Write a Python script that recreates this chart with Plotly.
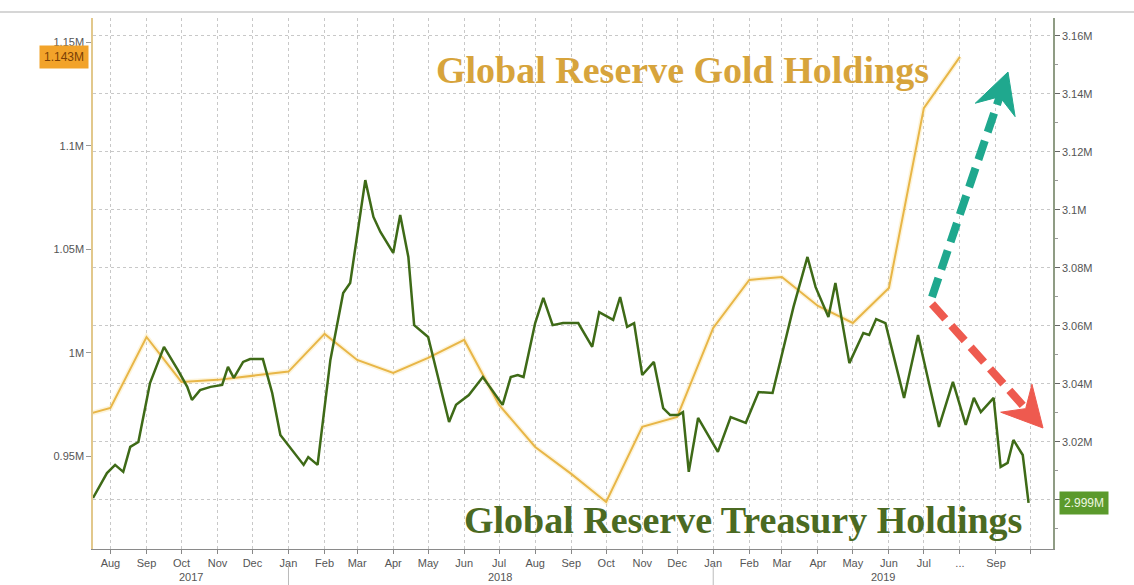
import plotly.graph_objects as go
import pandas as pd

# ---------------- data ----------------
gold_dates = ["2017-07-01", "2017-08-01", "2017-09-01", "2017-10-01", "2017-11-01", "2017-12-01",
              "2018-01-01", "2018-02-01", "2018-03-01", "2018-04-01", "2018-05-01", "2018-06-01",
              "2018-07-01", "2018-08-01", "2018-09-01", "2018-10-01", "2018-11-01", "2018-12-01",
              "2019-01-01", "2019-02-01", "2019-03-01", "2019-04-01", "2019-05-01", "2019-06-01",
              "2019-07-01", "2019-08-01"]
gold_values = [0.9686, 0.9734, 1.0077, 0.9860, 0.9870, 0.9889,
               0.9910, 1.0092, 0.9966, 0.9903, 0.9976, 1.0063,
               0.9749, 0.9546, 0.9416, 0.9280, 0.9643, 0.9691,
               1.0121, 1.0353, 1.0367, 1.0227, 1.0145, 1.0314,
               1.1183, 1.1430]

treasury_dates = ["2017-07-17", "2017-07-29", "2017-08-05", "2017-08-12", "2017-08-18", "2017-08-25",
                  "2017-09-04", "2017-09-16", "2017-09-28", "2017-10-06", "2017-10-10", "2017-10-17",
                  "2017-10-26", "2017-11-05", "2017-11-10", "2017-11-15", "2017-11-23", "2017-11-29",
                  "2017-12-10", "2017-12-18", "2017-12-25", "2018-01-03", "2018-01-14", "2018-01-18",
                  "2018-01-26", "2018-02-06", "2018-02-17", "2018-02-23", "2018-03-08", "2018-03-15",
                  "2018-03-21", "2018-04-01", "2018-04-07", "2018-04-14", "2018-04-19", "2018-05-01",
                  "2018-05-19", "2018-05-25", "2018-06-05", "2018-06-17", "2018-07-04", "2018-07-11",
                  "2018-07-17", "2018-07-22", "2018-08-01", "2018-08-08", "2018-08-16", "2018-08-25",
                  "2018-09-07", "2018-09-19", "2018-09-25", "2018-10-07", "2018-10-13", "2018-10-19",
                  "2018-10-25", "2018-11-01", "2018-11-11", "2018-11-19", "2018-11-25", "2018-12-02",
                  "2018-12-06", "2018-12-11", "2018-12-19", "2019-01-05", "2019-01-16", "2019-01-29",
                  "2019-02-09", "2019-02-21", "2019-03-11", "2019-03-23", "2019-03-30", "2019-04-10",
                  "2019-04-16", "2019-04-28", "2019-05-10", "2019-05-15", "2019-05-21", "2019-05-29",
                  "2019-06-14", "2019-06-26", "2019-07-14", "2019-07-26", "2019-08-06", "2019-08-13",
                  "2019-08-19", "2019-08-30", "2019-09-05", "2019-09-11", "2019-09-16", "2019-09-24",
                  "2019-09-29"]
treasury_values = [3.0007, 3.0093, 3.0121, 3.0097, 3.0183, 3.0200,
                   3.0403, 3.0528, 3.0448, 3.0390, 3.0345, 3.0379,
                   3.0390, 3.0397, 3.0459, 3.0421, 3.0476, 3.0486,
                   3.0486, 3.0369, 3.0224, 3.0179, 3.0121, 3.0148,
                   3.0121, 3.0483, 3.0714, 3.0748, 3.1103, 3.0976,
                   3.0924, 3.0852, 3.0983, 3.0838, 3.0603, 3.0562,
                   3.0269, 3.0328, 3.0362, 3.0424, 3.0328, 3.0424,
                   3.0431, 3.0424, 3.0610, 3.0697, 3.0603, 3.0610,
                   3.0610, 3.0528, 3.0648, 3.0621, 3.0700, 3.0597,
                   3.0610, 3.0431, 3.0476, 3.0317, 3.0293, 3.0293,
                   3.0303, 3.0097, 3.0283, 3.0166, 3.0286, 3.0266,
                   3.0372, 3.0369, 3.0666, 3.0838, 3.0734, 3.0631,
                   3.0748, 3.0472, 3.0576, 3.0569, 3.0624, 3.0610,
                   3.0352, 3.0569, 3.0252, 3.0407, 3.0259, 3.0352,
                   3.0303, 3.0352, 3.0114, 3.0128, 3.0207, 3.0155,
                   2.9990]

month_ticks = ["2017-08-01", "2017-09-01", "2017-10-01", "2017-11-01", "2017-12-01",
               "2018-01-01", "2018-02-01", "2018-03-01", "2018-04-01", "2018-05-01", "2018-06-01",
               "2018-07-01", "2018-08-01", "2018-09-01", "2018-10-01", "2018-11-01", "2018-12-01",
               "2019-01-01", "2019-02-01", "2019-03-01", "2019-04-01", "2019-05-01", "2019-06-01",
               "2019-07-01", "2019-08-01", "2019-09-01", "2019-10-01"]
month_labels = ["Aug", "Sep", "Oct", "Nov", "Dec",
                "Jan", "Feb", "Mar", "Apr", "May", "Jun", "Jul", "Aug", "Sep", "Oct", "Nov", "Dec",
                "Jan", "Feb", "Mar", "Apr", "May", "Jun", "Jul", "...", "Sep", ""]
years = ["2017", "2018", "2019"]
year_starts = ["2018-01-01", "2019-01-01"]

left_ticks = [0.95, 1.0, 1.05, 1.1, 1.15]
left_labels = ["0.95M", "1M", "1.05M", "1.1M", "1.15M"]
right_ticks = [3.00, 3.02, 3.04, 3.06, 3.08, 3.10, 3.12, 3.14, 3.16]
right_labels = ["", "3.02M", "3.04M", "3.06M", "3.08M", "3.1M", "3.12M", "3.14M", "3.16M"]

x_range = ["2017-07-17", "2019-10-20"]
left_range = [0.9053, 1.1618]
right_range = [2.9831, 3.1662]

# ---------------- styling ----------------
GOLD = "#E8B647"
GREEN = "#3E6A17"
TICKFONT = dict(family="Liberation Sans, Arial", size=11, color="#555555")

fig = go.Figure()
# soft halo under gold line
fig.add_trace(go.Scatter(x=gold_dates, y=gold_values, mode="lines", yaxis="y",
                         line=dict(color="rgba(245,205,90,0.22)", width=5), hoverinfo="skip"))
fig.add_trace(go.Scatter(x=gold_dates, y=gold_values, mode="lines", yaxis="y",
                         name="Global Reserve Gold Holdings",
                         line=dict(color=GOLD, width=2)))
fig.add_trace(go.Scatter(x=treasury_dates, y=treasury_values, mode="lines", yaxis="y2",
                         name="Global Reserve Treasury Holdings",
                         line=dict(color=GREEN, width=2.5)))

fig.update_layout(
    width=1134, height=585,
    margin=dict(l=93, r=81, t=18, b=36),
    paper_bgcolor="white", plot_bgcolor="white",
    showlegend=False,
    xaxis=dict(type="date", range=x_range, tickvals=month_ticks, ticktext=month_labels,
               showgrid=True, gridcolor="#c8c8c8", griddash="dot", gridwidth=1,
               ticks="outside", ticklen=4, tickcolor="#888888",
               showline=True, linecolor="#8a8a8a", linewidth=1,
               tickfont=TICKFONT, zeroline=False, fixedrange=True),
    yaxis=dict(range=left_range, tickvals=left_ticks, ticktext=left_labels,
               showgrid=False, zeroline=False,
               showline=True, linecolor="#e2c88c", linewidth=1.5,
               ticks="outside", ticklen=5, tickcolor="#999999",
               tickfont=TICKFONT),
    yaxis2=dict(overlaying="y", side="right", range=right_range,
                tickvals=right_ticks, ticktext=right_labels,
                showgrid=True, gridcolor="#c8c8c8", griddash="dot", gridwidth=1,
                zeroline=False, showline=True, linecolor="#8f9c84", linewidth=1.5,
                ticks="outside", ticklen=5, tickcolor="#666666",
                minor=dict(ticks="outside", ticklen=3, tick0=3.0, dtick=0.01,
                           tickcolor="#999999", showgrid=False),
                tickfont=TICKFONT),
)

# ---------------- pixel helpers for decorations ----------------
L, R, T, B = 93, 1053, 18, 549
def pp(xp, yp):
    return (xp - L) / (R - L), (B - yp) / (B - T)

shapes = []
# top frame line of the picture
shapes.append(dict(type="line", xref="paper", yref="paper",
                   x0=pp(0, 12)[0], x1=pp(1134, 12)[0], y0=pp(0, 12)[1], y1=pp(0, 12)[1],
                   line=dict(color="#c9c9c9", width=1.5)))
# year separators
for ys in year_starts:
    shapes.append(dict(type="line", xref="x", yref="paper", x0=ys, x1=ys,
                       y0=pp(0, 564)[1], y1=pp(0, 585)[1],
                       line=dict(color="#bbbbbb", width=1)))

def arrow(tail, tip, color):
    import math
    dx, dy = tip[0] - tail[0], tip[1] - tail[1]
    ln = math.hypot(dx, dy)
    ux, uy = dx / ln, dy / ln
    nx, ny = -uy, ux
    hl, hw, notch = 40, 21, 26
    end = (tip[0] - ux * 24, tip[1] - uy * 24)
    bx, by = tip[0] - ux * hl, tip[1] - uy * hl
    p1 = (bx + nx * hw, by + ny * hw)
    p2 = (tip[0] - ux * notch, tip[1] - uy * notch)
    p3 = (bx - nx * hw, by - ny * hw)
    a0, a1 = pp(*tail), pp(*end)
    shapes.append(dict(type="line", xref="paper", yref="paper",
                       x0=a0[0], y0=a0[1], x1=a1[0], y1=a1[1],
                       line=dict(color=color, width=8, dash="20px,9px")))
    pts = [pp(*tip), pp(*p1), pp(*p2), pp(*p3)]
    path = "M {} {} L {} {} L {} {} L {} {} Z".format(*[c for p in pts for c in p])
    shapes.append(dict(type="path", xref="paper", yref="paper", path=path,
                       fillcolor=color, line=dict(color=color, width=1)))

arrow((932, 297), (1008, 72), "#1FA88E")
arrow((932, 304), (1043, 428), "#EE5A4F")

fig.update_layout(shapes=shapes)

# ---------------- annotations ----------------
ann = []
gx, gy = pp(682, 70)
ann.append(dict(xref="paper", yref="paper", x=gx, y=gy, xanchor="center", yanchor="middle",
                text="<b>Global Reserve Gold Holdings</b>", showarrow=False,
                font=dict(family="Liberation Serif, Times New Roman", size=38, color="#D7A43C")))
tx, ty = pp(743, 520)
ann.append(dict(xref="paper", yref="paper", x=tx, y=ty, xanchor="center", yanchor="middle",
                text="<b>Global Reserve Treasury Holdings</b>", showarrow=False,
                font=dict(family="Liberation Serif, Times New Roman", size=38, color="#4B6A22")))

# year labels centred in each visible year span
bounds = [pd.Timestamp(x_range[0])] + [pd.Timestamp(s) for s in year_starts] + [pd.Timestamp(x_range[1])]
for i, yr in enumerate(years):
    mid = bounds[i] + (bounds[i + 1] - bounds[i]) / 2
    ann.append(dict(xref="x", yref="paper", x=mid.strftime("%Y-%m-%d"), y=pp(0, 577)[1],
                    xanchor="center", yanchor="middle", text=yr, showarrow=False,
                    font=TICKFONT))

# last-value tags
ann.append(dict(xref="paper", yref="y", x=0, y=gold_values[-1], xanchor="right", yanchor="middle",
                xshift=-4, text="{:.3f}M".format(gold_values[-1]), showarrow=False,
                bgcolor="#F2A32A", borderpad=4,
                font=dict(family="Liberation Sans, Arial", size=12, color="#7a3f05")))
ann.append(dict(xref="paper", yref="y2", x=1, y=treasury_values[-1], xanchor="left", yanchor="middle",
                xshift=6, text="{:.3f}M".format(treasury_values[-1]), showarrow=False,
                bgcolor="#5B9A2C", borderpad=4,
                font=dict(family="Liberation Sans, Arial", size=12, color="#eef7e0")))
fig.update_layout(annotations=ann)

fig.write_html("out.html")
